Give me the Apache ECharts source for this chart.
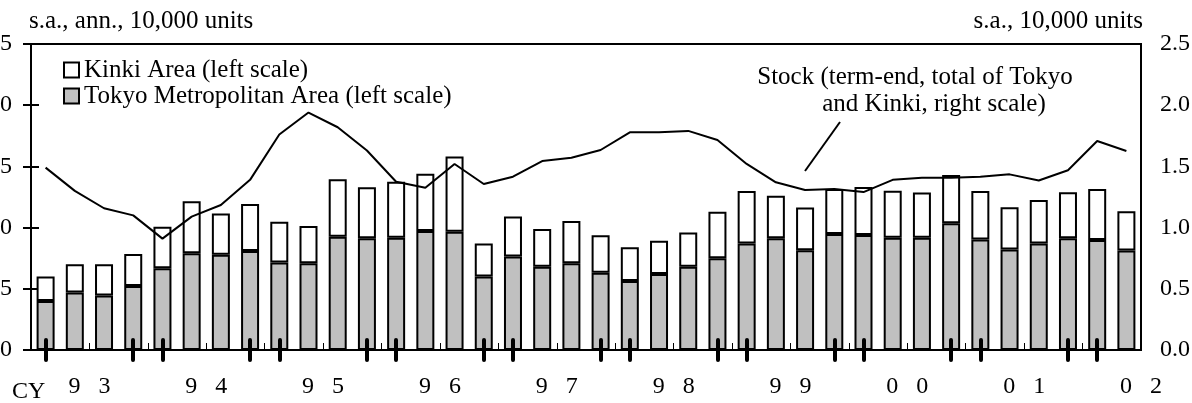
<!DOCTYPE html>
<html>
<head>
<meta charset="utf-8">
<script src="https://cdn.jsdelivr.net/npm/echarts@6/dist/echarts.min.js"></script>
<style>
html,body{margin:0;padding:0;background:#fff;}
#chart{width:1192px;height:403px;}
</style>
</head>
<body>
<div id="chart"></div>
<script>
// Quarterly categories: 1993 Q1 .. 2002 Q2
var quarters = [];
var yearList = ['93','94','95','96','97','98','99','00','01','02'];
for (var yi = 0; yi < yearList.length; yi++) {
  for (var q = 1; q <= 4; q++) {
    if (yearList[yi] === '02' && q > 2) break;
    quarters.push(yearList[yi] + 'Q' + q);
  }
}
// Year tick labels
var yearLabels = ['93','94','95','96','97','98','99','00','01','02'];

// Tokyo Metropolitan Area (left scale, s.a., ann., 10,000 units)
var tokyo = [4.0,4.7,4.45,5.23,6.67,7.9,7.78,8.09,7.14,7.08,9.26,9.12,9.18,9.72,9.67,6.0,7.63,6.81,7.08,6.32,5.64,6.21,6.81,7.49,8.71,9.12,8.15,9.48,9.4,9.18,9.18,10.35,9.02,8.22,8.71,9.12,8.99,8.12];
// Kinki Area (left scale)
var kinki = [2.0,2.3,2.55,2.61,3.4,4.25,3.37,3.84,3.34,3.05,4.68,4.17,4.57,4.68,6.13,2.71,3.27,3.07,3.46,3.05,2.75,2.72,2.78,3.81,4.29,3.49,3.5,3.67,3.92,3.84,3.68,3.95,3.98,3.44,3.54,3.76,4.16,3.21];
// Stock (term-end, total of Tokyo and Kinki, right scale)
var stock = [1.49,1.30,1.158,1.10,0.91,1.09,1.185,1.39,1.76,1.94,1.82,1.63,1.375,1.326,1.52,1.356,1.416,1.544,1.571,1.634,1.778,1.778,1.79,1.716,1.52,1.37,1.307,1.315,1.29,1.39,1.408,1.408,1.416,1.435,1.385,1.468,1.707,1.626];

var FONT = "'Liberation Serif','Times New Roman',serif";
var FS = 24;   // axis labels
var FT = 25;   // legend, titles, annotation
var N = quarters.length;

// positions (in category units) for year labels and thick year ticks
var yearCenters = [];
for (var i = 0; i < yearLabels.length; i++) yearCenters.push(4 * i + 2);
var thickTicks = [];
for (var i = 0; i < N; i++) {
  var qq = i % 4;
  if (qq === 0 || qq === 3) thickTicks.push(i + 0.5);
}

function spaced(s) { return s.split('').join('   '); }

var chart = echarts.init(document.getElementById('chart'), null, {renderer: 'canvas'});
var valueXAxisBase = {
  type: 'value', min: 0, max: N, position: 'bottom', z: 10,
  axisLine: {show: false}, splitLine: {show: false}
};
var option = {
  animation: false,
  backgroundColor: '#fff',
  textStyle: {fontFamily: FONT, color: '#000'},
  grid: {left: 31, right: 51, top: 44, bottom: 53, containLabel: false, outerBoundsMode: 'none',
    show: true, borderColor: '#000', borderWidth: 2, backgroundColor: 'transparent'},
  legend: {
    orient: 'vertical', left: 58, top: 52, itemWidth: 15, itemHeight: 15, itemGap: 0,
    data: ['Kinki Area (left scale)', 'Tokyo Metropolitan Area (left scale)'],
    textStyle: {fontFamily: FONT, fontSize: FT, color: '#000', lineHeight: 26},
    icon: 'rect'
  },
  xAxis: [
    {
      type: 'category', data: quarters, boundaryGap: true, position: 'bottom',
      axisLine: {show: true, lineStyle: {color: '#000', width: 2}},
      axisTick: {show: true, inside: true, length: 7, lineStyle: {color: '#000', width: 1}},
      axisLabel: {show: false}, splitLine: {show: false}
    },
    Object.assign({}, valueXAxisBase, {
      axisTick: {show: true, inside: true, length: 10, customValues: thickTicks, lineStyle: {color: '#000', width: 4, cap: 'round'}},
      axisLabel: {show: true, customValues: yearCenters, margin: 25, fontFamily: FONT, fontSize: FS, color: '#000',
        formatter: function (v) { var k = Math.round((v - 2) / 4); return spaced(yearLabels[k] || ''); }}
    }),
    Object.assign({}, valueXAxisBase, {
      axisTick: {show: true, inside: false, length: 10, customValues: thickTicks, lineStyle: {color: '#000', width: 4, cap: 'round'}},
      axisLabel: {show: false}
    })
  ],
  yAxis: [
    {
      type: 'value', min: 0, max: 25, interval: 5, position: 'left',
      axisLine: {show: true, lineStyle: {color: '#000', width: 2}},
      axisTick: {show: true, inside: true, length: 8, lineStyle: {color: '#000', width: 2}},
      axisLabel: {margin: 19, fontFamily: FONT, fontSize: FS, color: '#000'},
      splitLine: {show: false}
    },
    {
      type: 'value', min: 0, max: 2.5, interval: 0.5, position: 'right',
      axisLine: {show: true, lineStyle: {color: '#000', width: 2}},
      axisTick: {show: true, inside: true, length: 8, lineStyle: {color: '#000', width: 2}},
      axisLabel: {margin: 19, fontFamily: FONT, fontSize: FS, color: '#000', formatter: function (v) { return v.toFixed(1); }},
      splitLine: {show: false}
    }
  ],
  series: [
    {
      name: 'Tokyo Metropolitan Area (left scale)', type: 'bar', stack: 'a', data: tokyo,
      xAxisIndex: 0, yAxisIndex: 0, barWidth: 18,
      itemStyle: {color: '#c0c0c0', borderColor: '#000', borderWidth: 2}
    },
    {
      name: 'Kinki Area (left scale)', type: 'bar', stack: 'a', data: kinki,
      xAxisIndex: 0, yAxisIndex: 0, barWidth: 18,
      itemStyle: {color: '#fff', borderColor: '#000', borderWidth: 2}
    },
    {
      name: 'Stock', type: 'line', data: stock, xAxisIndex: 0, yAxisIndex: 1,
      showSymbol: false, symbol: 'none', lineStyle: {color: '#000', width: 2}, z: 5
    }
  ],
  graphic: [
    {type: 'text', left: 29, top: 9, style: {text: 's.a., ann., 10,000 units', font: FT + 'px ' + FONT, fill: '#000'}},
    {type: 'text', right: 49, top: 9, style: {text: 's.a., 10,000 units', font: FT + 'px ' + FONT, fill: '#000'}},
    {type: 'text', x: 915, y: 77, style: {text: 'Stock (term-end, total of Tokyo', font: FT + 'px ' + FONT, fill: '#000', align: 'center', verticalAlign: 'middle'}},
    {type: 'text', x: 934, y: 104, style: {text: 'and Kinki, right scale)', font: FT + 'px ' + FONT, fill: '#000', align: 'center', verticalAlign: 'middle'}},
    {type: 'line', shape: {x1: 840, y1: 122, x2: 805, y2: 171}, style: {stroke: '#000', lineWidth: 2}},
    {type: 'text', left: 12, top: 380, style: {text: 'CY', font: FS + 'px ' + FONT, fill: '#000'}}
  ]
};
chart.setOption(option);
</script>
</body>
</html>
